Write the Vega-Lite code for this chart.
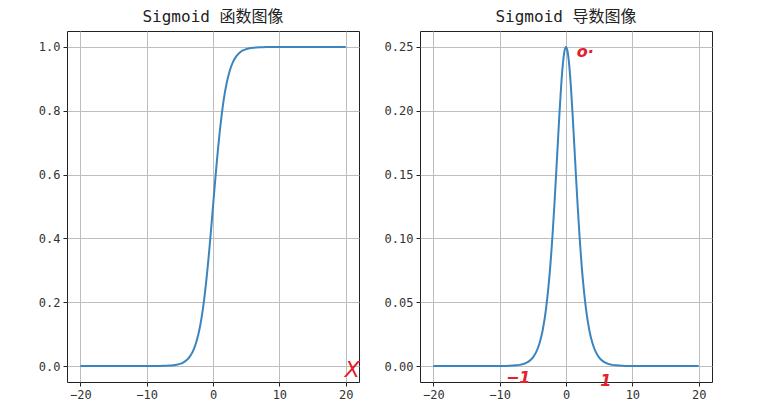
{
  "$schema": "https://vega.github.io/schema/vega-lite/v6.json",
  "background": "white",
  "padding": {"top": 8, "left": 37, "right": 10, "bottom": 3},
  "datasets": {
    "curve": [
      {"x": -20, "s": 0, "d": 0},
      {"x": -19, "s": 0, "d": 0},
      {"x": -18, "s": 0, "d": 0},
      {"x": -17, "s": 0, "d": 0},
      {"x": -16, "s": 0, "d": 0},
      {"x": -15, "s": 0, "d": 0},
      {"x": -14, "s": 0, "d": 0},
      {"x": -13, "s": 0, "d": 0},
      {"x": -12, "s": 0.00001, "d": 0.00001},
      {"x": -11.5, "s": 0.00001, "d": 0.00001},
      {"x": -11, "s": 0.00002, "d": 0.00002},
      {"x": -10.5, "s": 0.00003, "d": 0.00003},
      {"x": -10, "s": 0.00005, "d": 0.00005},
      {"x": -9.5, "s": 0.00007, "d": 0.00007},
      {"x": -9, "s": 0.00012, "d": 0.00012},
      {"x": -8.5, "s": 0.0002, "d": 0.0002},
      {"x": -8, "s": 0.00034, "d": 0.00034},
      {"x": -7.5, "s": 0.00055, "d": 0.00055},
      {"x": -7, "s": 0.00091, "d": 0.00091},
      {"x": -6.5, "s": 0.0015, "d": 0.0015},
      {"x": -6, "s": 0.00247, "d": 0.00247},
      {"x": -5.5, "s": 0.00407, "d": 0.00405},
      {"x": -5, "s": 0.00669, "d": 0.00665},
      {"x": -4.5, "s": 0.01099, "d": 0.01087},
      {"x": -4, "s": 0.01799, "d": 0.01766},
      {"x": -3.5, "s": 0.02931, "d": 0.02845},
      {"x": -3, "s": 0.04743, "d": 0.04518},
      {"x": -2.5, "s": 0.07586, "d": 0.0701},
      {"x": -2, "s": 0.1192, "d": 0.10499},
      {"x": -1.75, "s": 0.14805, "d": 0.12613},
      {"x": -1.5, "s": 0.18243, "d": 0.14915},
      {"x": -1.25, "s": 0.2227, "d": 0.1731},
      {"x": -1, "s": 0.26894, "d": 0.19661},
      {"x": -0.75, "s": 0.32082, "d": 0.21789},
      {"x": -0.5, "s": 0.37754, "d": 0.235},
      {"x": -0.25, "s": 0.43782, "d": 0.24613},
      {"x": 0, "s": 0.5, "d": 0.25},
      {"x": 0.25, "s": 0.56218, "d": 0.24613},
      {"x": 0.5, "s": 0.62246, "d": 0.235},
      {"x": 0.75, "s": 0.67918, "d": 0.21789},
      {"x": 1, "s": 0.73106, "d": 0.19661},
      {"x": 1.25, "s": 0.7773, "d": 0.1731},
      {"x": 1.5, "s": 0.81757, "d": 0.14915},
      {"x": 1.75, "s": 0.85195, "d": 0.12613},
      {"x": 2, "s": 0.8808, "d": 0.10499},
      {"x": 2.5, "s": 0.92414, "d": 0.0701},
      {"x": 3, "s": 0.95257, "d": 0.04518},
      {"x": 3.5, "s": 0.97069, "d": 0.02845},
      {"x": 4, "s": 0.98201, "d": 0.01766},
      {"x": 4.5, "s": 0.98901, "d": 0.01087},
      {"x": 5, "s": 0.99331, "d": 0.00665},
      {"x": 5.5, "s": 0.99593, "d": 0.00405},
      {"x": 6, "s": 0.99753, "d": 0.00247},
      {"x": 6.5, "s": 0.9985, "d": 0.0015},
      {"x": 7, "s": 0.99909, "d": 0.00091},
      {"x": 7.5, "s": 0.99945, "d": 0.00055},
      {"x": 8, "s": 0.99966, "d": 0.00034},
      {"x": 8.5, "s": 0.9998, "d": 0.0002},
      {"x": 9, "s": 0.99988, "d": 0.00012},
      {"x": 9.5, "s": 0.99993, "d": 0.00007},
      {"x": 10, "s": 0.99995, "d": 0.00005},
      {"x": 10.5, "s": 0.99997, "d": 0.00003},
      {"x": 11, "s": 0.99998, "d": 0.00002},
      {"x": 11.5, "s": 0.99999, "d": 0.00001},
      {"x": 12, "s": 0.99999, "d": 0.00001},
      {"x": 13, "s": 1, "d": 0},
      {"x": 14, "s": 1, "d": 0},
      {"x": 15, "s": 1, "d": 0},
      {"x": 16, "s": 1, "d": 0},
      {"x": 17, "s": 1, "d": 0},
      {"x": 18, "s": 1, "d": 0},
      {"x": 19, "s": 1, "d": 0},
      {"x": 20, "s": 1, "d": 0}
    ],
    "notesLeft": [
      {"x": 21, "y": -0.012, "note": "X"}
    ],
    "notesRight": [
      {"x": 2.9, "y": 0.246, "note": "o·"},
      {"x": -7.2, "y": -0.0095, "note": "−1"},
      {"x": 6.0, "y": -0.0115, "note": "1"}
    ]
  },
  "hconcat": [
    {
      "title": "Sigmoid 函数图像",
      "width": 292,
      "height": 351,
      "layer": [
        {
          "data": {"name": "curve"},
          "mark": {"type": "line", "interpolate": "monotone"},
          "encoding": {
            "x": {
              "field": "x",
              "type": "quantitative",
              "scale": {"domain": [-22, 22], "nice": false, "zero": false},
              "axis": {"values": [-20, -10, 0, 10, 20]}
            },
            "y": {
              "field": "s",
              "type": "quantitative",
              "scale": {"domain": [-0.05, 1.05], "nice": false},
              "axis": {"values": [0, 0.2, 0.4, 0.6, 0.8, 1.0], "format": ".1f"}
            }
          }
        },
        {
          "data": {"name": "notesLeft"},
          "mark": {"type": "text", "fontSize": 22, "color": "#e3202b", "font": "DejaVu Sans", "fontStyle": "italic", "baseline": "middle"},
          "encoding": {
            "x": {"field": "x", "type": "quantitative"},
            "y": {"field": "y", "type": "quantitative"},
            "text": {"field": "note"}
          }
        }
      ]
    },
    {
      "title": "Sigmoid 导数图像",
      "width": 292,
      "height": 351,
      "layer": [
        {
          "data": {"name": "curve"},
          "mark": {"type": "line", "interpolate": "monotone"},
          "encoding": {
            "x": {
              "field": "x",
              "type": "quantitative",
              "scale": {"domain": [-22, 22], "nice": false, "zero": false},
              "axis": {"values": [-20, -10, 0, 10, 20]}
            },
            "y": {
              "field": "d",
              "type": "quantitative",
              "scale": {"domain": [-0.0125, 0.2625], "nice": false},
              "axis": {"values": [0, 0.05, 0.1, 0.15, 0.2, 0.25], "format": ".2f"}
            }
          }
        },
        {
          "data": {"name": "notesRight"},
          "mark": {"type": "text", "fontSize": 16, "fontWeight": "bold", "fontStyle": "italic", "color": "#e3202b", "font": "DejaVu Sans", "baseline": "middle"},
          "encoding": {
            "x": {"field": "x", "type": "quantitative"},
            "y": {"field": "y", "type": "quantitative"},
            "text": {"field": "note"}
          }
        }
      ]
    }
  ],
  "config": {
    "font": "DejaVu Sans Mono, Noto Sans CJK SC",
    "view": {"stroke": "#222", "strokeWidth": 1},
    "concat": {"spacing": 22},
    "line": {"color": "#3a85c0", "strokeWidth": 2},
    "axis": {
      "title": null,
      "domain": false,
      "grid": true,
      "gridColor": "#bdbdbd",
      "gridWidth": 1,
      "ticks": true,
      "tickColor": "#222",
      "tickSize": 4,
      "labelFont": "DejaVu Sans Mono",
      "labelFontSize": 12,
      "labelColor": "#333",
      "labelPadding": 3,
      "labelFlush": false,
      "labelAngle": 0
    },
    "title": {
      "font": "DejaVu Sans Mono, Noto Sans CJK SC",
      "fontSize": 16,
      "fontWeight": "normal",
      "color": "#222",
      "offset": 6
    }
  }
}
